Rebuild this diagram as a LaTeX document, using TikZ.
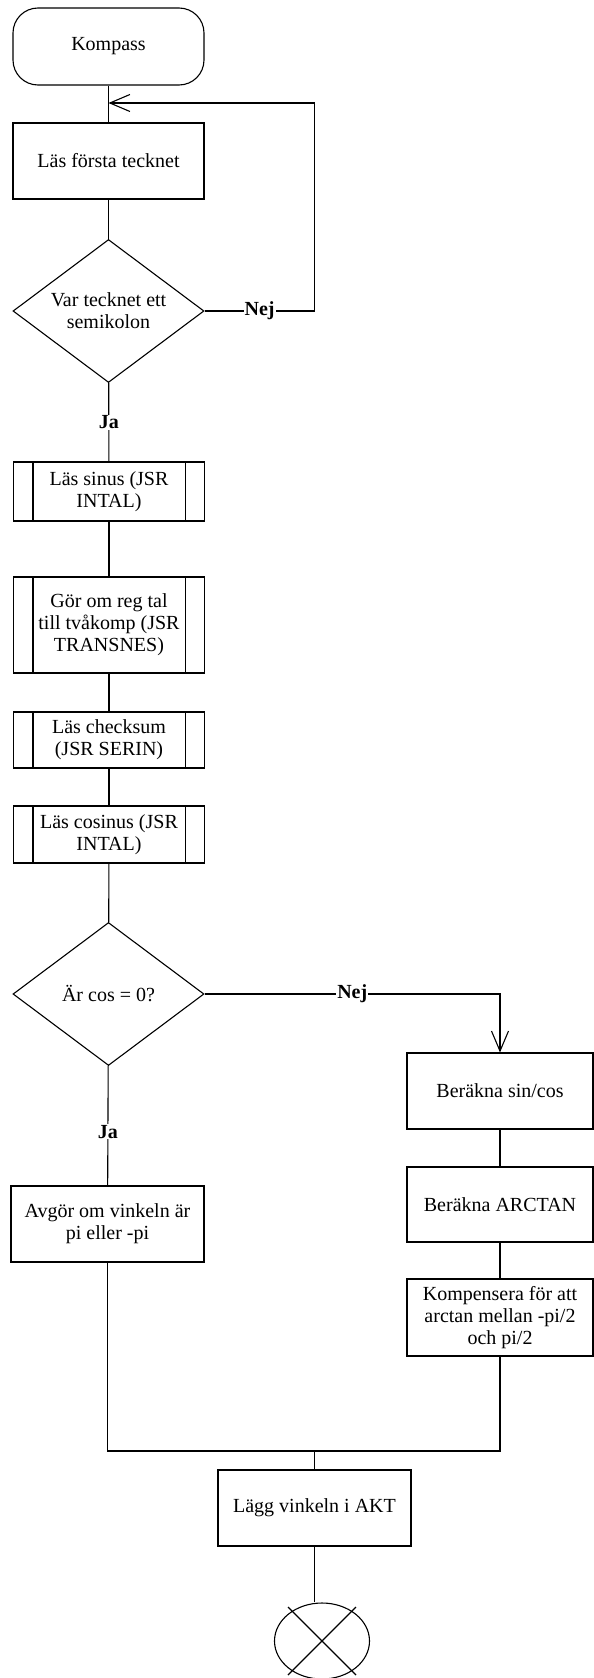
\documentclass[tikz,border=0pt]{standalone}
\usepackage{fontspec}
\setmainfont{Liberation Serif}
\usetikzlibrary{shapes.geometric,arrows.meta}

\begin{document}
\begin{tikzpicture}[x=1pt, y=1pt, line width=1.1pt,
  every node/.style={font=\fontsize{20}{22}\selectfont, align=center, inner sep=0pt},
  box/.style={draw, rectangle, minimum width=191pt, minimum height=76pt},
  subbox/.style={box, minimum height=57pt},
  beslut/.style={draw, diamond, aspect=1.33, minimum width=191pt, minimum height=143pt},
  lbl/.style={fill=white, inner sep=1pt, font=\fontsize{20}{22}\selectfont\bfseries},
  pil/.style={-{Straight Barb[length=20pt,width=17pt]}}]
\useasboundingbox (0,0) rectangle (594,-1678);
% vänstra kolumnen
\node[box, rounded corners=25pt, minimum height=77pt] (kompass) at (108.5,-46.5) {Kompass};
\node[box] (forsta) at (108.5,-161) {Läs första tecknet};
\node[beslut] (semi) at (108.5,-311) {Var tecknet ett\\semikolon};
\node[subbox, minimum height=59pt] (sinus) at (109,-491.5) {Läs sinus (JSR\\INTAL)};
\node[subbox, minimum height=96pt] (tvakomp) at (109,-625) {Gör om reg tal\\till tvåkomp (JSR\\TRANSNES)};
\node[subbox, minimum height=56pt] (checksum) at (109,-740) {Läs checksum\\(JSR SERIN)};
\node[subbox] (cosinus) at (109,-834.5) {Läs cosinus (JSR\\INTAL)};
\node[beslut] (cosnoll) at (108.5,-994) {Är cos = 0?};
\node[box, minimum width=193pt] (avgor) at (107.5,-1224) {Avgör om vinkeln är\\pi eller -pi};
% högra kolumnen
\node[box, minimum width=186pt] (sincos) at (500,-1091) {Beräkna sin/cos};
\node[box, minimum width=186pt, minimum height=75pt] (arctan) at (500,-1204.5) {Beräkna ARCTAN};
\node[box, minimum width=186pt, minimum height=77pt] (kompensera) at (500,-1317.5) {Kompensera för att\\arctan mellan -pi/2\\och pi/2};
% slutet
\node[box, minimum width=193pt] (lagg) at (314.5,-1508) {Lägg vinkeln i AKT};
\node[draw, ellipse, minimum width=95pt, minimum height=76pt] (slut) at (322,-1641) {};
\coordinate (retur) at (108.5,-103);
\coordinate (samman) at (314.5,-1451);

\foreach \n in {sinus,tvakomp,checksum,cosinus} {
  \draw ([xshift=20pt]\n.north west) -- ([xshift=20pt]\n.south west);
  \draw ([xshift=-20pt]\n.north east) -- ([xshift=-20pt]\n.south east);
}
\draw ([shift={(-34,34)}]slut.center) -- ([shift={(34,-34)}]slut.center);
\draw ([shift={(-34,-34)}]slut.center) -- ([shift={(34,34)}]slut.center);

\draw (kompass) -- (forsta);
\draw (forsta) -- (semi);
\draw[pil] (semi.east) -- node[lbl]{Nej} ++(110,0) |- (retur);
\draw (semi) -- node[lbl]{Ja} (sinus);
\draw (sinus) -- (tvakomp);
\draw (tvakomp) -- (checksum);
\draw (checksum) -- (cosinus);
\draw (cosinus) -- (cosnoll);
\draw[pil] (cosnoll.east) -| node[lbl, pos=0.25]{Nej} (sincos.north);
\draw (cosnoll) -- node[lbl, pos=0.55]{Ja} (avgor);
\draw (sincos) -- (arctan);
\draw (arctan) -- (kompensera);
\draw (avgor.south) |- (samman) -| (kompensera.south);
\draw (samman) -- (lagg);
\draw (lagg.south) -- (lagg.south |- slut.north);
\end{tikzpicture}
\end{document}
